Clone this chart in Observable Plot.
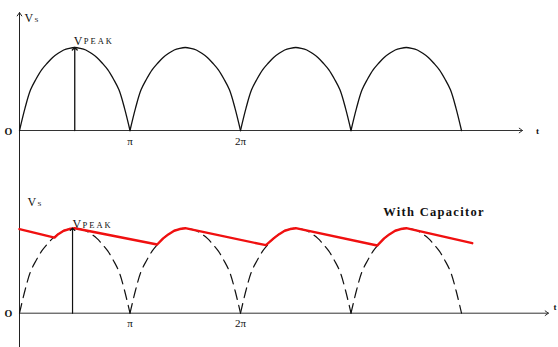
<!DOCTYPE html>
<html><head><meta charset="utf-8">
<script src="https://cdn.jsdelivr.net/npm/d3@7"></script>
<script src="https://cdn.jsdelivr.net/npm/@observablehq/plot@0.6"></script>
<style>
body{margin:0;background:#fff;}
#chart{position:relative;width:558px;height:347px;overflow:hidden;background:#fff;}
#chart svg{position:absolute;left:0;background:transparent;font-family:'Liberation Serif','Times New Roman',serif;}
</style></head><body><div id="chart"></div>
<script>
// ---- data (t in units of π, v in units of V_PEAK) ----
const humpStarts = [0, 1, 2, 3];
const humpPhase = [0,0.05,0.1,0.15,0.2,0.25,0.3,0.35,0.4,0.45,0.5,0.55,0.6,0.65,0.7,0.75,0.8,0.85,0.9,0.95,1];
const humpShape = [0,0.27,0.49,0.62,0.73,0.81,0.88,0.93,0.97,0.99,1,0.99,0.97,0.93,0.88,0.81,0.73,0.62,0.49,0.27,0];
const tickValues = [1, 2];
const tickLabels = ["π", "2π"];
const rippleT = [0,0.317,0.35,0.4,0.45,0.5, 1.246,1.3,1.35,1.4,1.45,1.5, 2.23,2.3,2.35,2.4,2.45,2.5, 3.237,3.3,3.35,3.4,3.45,3.5, 4.097];
const rippleV = [0.99,0.89,0.93,0.97,0.99,1.0, 0.808,0.88,0.93,0.97,0.99,1.0, 0.80,0.88,0.93,0.97,0.99,1.0, 0.796,0.88,0.93,0.97,0.99,1.0, 0.824];
const peakTop = 0.5, peakBottom = 0.48;

const humps = humpStarts.flatMap(s => humpPhase.map((p, i) => ({t: s + p, v: humpShape[i], k: s})));
const ripple = rippleT.map((t, i) => ({t, v: rippleV[i]}));
const ticks = tickValues.map((t, i) => ({t, label: tickLabels[i]}));

const serif = "Liberation Serif";
const ink = "#111";
const T = (o) => ({fontFamily: serif, fill: ink, ...o});
const common = {width: 558, marginLeft: 19, marginRight: 97,
  x: {domain: [0, 4], axis: null}, y: {domain: [0, 1], axis: null},
  style: {background: "transparent", overflow: "visible"}};

const topPlot = Plot.plot({...common, height: 165, marginTop: 47, marginBottom: 35,
  marks: [
    Plot.arrow([{x1: 0, y1: -0.43, x2: 0, y2: 1.42}], {x1: "x1", y1: "y1", x2: "x2", y2: "y2", stroke: "#222", strokeWidth: 1, headLength: 6, headAngle: 70}),
    Plot.arrow([{x1: 0, y1: 0, x2: 4.552, y2: 0}], {x1: "x1", y1: "y1", x2: "x2", y2: "y2", stroke: "#333", strokeWidth: 1, headLength: 6, headAngle: 70}),
    Plot.line(humps, {x: "t", y: "v", z: "k", stroke: ink, strokeWidth: 1.3, curve: "catmull-rom"}),
    Plot.arrow([{x1: peakTop, y1: 0, x2: peakTop, y2: 1}], {x1: "x1", y1: "y1", x2: "x2", y2: "y2", stroke: ink, strokeWidth: 1.3, headLength: 4, headAngle: 90}),
    Plot.text(ticks, T({x: "t", y: () => 0, text: "label", dy: 11, fontSize: 11})),
    Plot.text(["O"], T({x: () => 0, y: () => 0, dx: -11, dy: 1, fontSize: 10, fontWeight: "bold"})),
    Plot.text(["t"], T({x: () => 4.552, y: () => 0, dx: 15, dy: 1, fontSize: 9, fontWeight: "bold"})),
    Plot.text(["V"], T({x: () => 0, y: () => 1.35, dx: 5, textAnchor: "start", fontSize: 12})),
    Plot.text(["S"], T({x: () => 0, y: () => 1.35, dx: 15, dy: 1.5, textAnchor: "start", fontSize: 7})),
    Plot.text(["V"], T({x: () => peakTop, y: () => 1, dx: -1, dy: -3, textAnchor: "start", lineAnchor: "bottom", fontSize: 12})),
    Plot.text(["PEAK"], T({x: () => peakTop, y: () => 1, dx: 9, dy: -3.5, textAnchor: "start", lineAnchor: "bottom", fontSize: 8.5}))
  ]});

const bottomPlot = Plot.plot({...common, height: 182, marginTop: 62.7, marginBottom: 34.3,
  marks: [
    Plot.ruleX([0], {y1: () => -0.41, y2: () => 1.75, stroke: "#222", strokeWidth: 1}),
    Plot.arrow([{x1: 0, y1: 0, x2: 4.787, y2: 0}], {x1: "x1", y1: "y1", x2: "x2", y2: "y2", stroke: "#333", strokeWidth: 1, headLength: 6, headAngle: 70}),
    Plot.line(humps, {x: "t", y: "v", z: "k", stroke: ink, strokeWidth: 1.2, strokeDasharray: "10,6", curve: "catmull-rom"}),
    Plot.line(ripple, {x: "t", y: "v", stroke: "#f01010", strokeWidth: 2.4, curve: "linear"}),
    Plot.arrow([{x1: peakBottom, y1: 0, x2: peakBottom, y2: 1}], {x1: "x1", y1: "y1", x2: "x2", y2: "y2", stroke: ink, strokeWidth: 1.2, headLength: 4, headAngle: 90}),
    Plot.text(ticks, T({x: "t", y: () => 0, text: "label", dy: 10, fontSize: 11})),
    Plot.text(["O"], T({x: () => 0, y: () => 0, dx: -11, dy: 1, fontSize: 10, fontWeight: "bold"})),
    Plot.text(["t"], T({x: () => 4.787, y: () => 0, dx: 5, dy: -6, textAnchor: "start", fontSize: 9, fontWeight: "bold"})),
    Plot.text(["V"], T({x: () => 0, y: () => 1.31, dx: 8, textAnchor: "start", fontSize: 12})),
    Plot.text(["S"], T({x: () => 0, y: () => 1.31, dx: 18, dy: 1.5, textAnchor: "start", fontSize: 7})),
    Plot.text(["V"], T({x: () => peakBottom, y: () => 1, dx: 0, dy: 0, textAnchor: "start", lineAnchor: "bottom", fontSize: 12})),
    Plot.text(["PEAK"], T({x: () => peakBottom, y: () => 1, dx: 10, dy: -0.5, textAnchor: "start", lineAnchor: "bottom", fontSize: 8.5})),
    Plot.text(["With Capacitor"], T({x: () => 3.751, y: () => 1.185, fontSize: 12.5, fontWeight: "bold"}))
  ]});

// letter spacing (not a Plot.text option) applied to the rendered labels
for (const svg of [topPlot, bottomPlot]) {
  d3.select(svg).selectAll("text").each(function () {
    const s = this.textContent;
    if (s === "PEAK") this.style.letterSpacing = "2px";
    if (s === "With Capacitor") this.style.letterSpacing = "1.3px";
  });
}

topPlot.style.top = "0px";
bottomPlot.style.top = "165px";
document.getElementById("chart").append(topPlot, bottomPlot);
</script></body></html>
